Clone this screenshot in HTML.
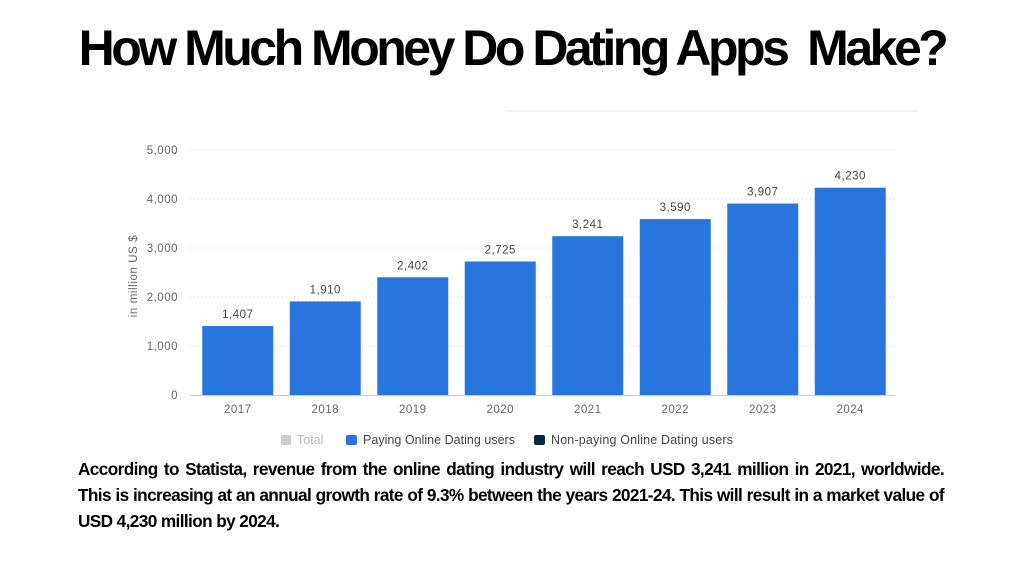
<!DOCTYPE html>
<html><head><meta charset="utf-8"><style>
body{margin:0;width:1024px;height:576px;background:#fff;overflow:hidden;position:relative;font-family:"Liberation Sans",sans-serif}
#title{position:absolute;left:0;top:19px;width:1024px;text-align:center;font-weight:bold;font-size:50px;letter-spacing:-3.5px;color:#000;white-space:nowrap}
#para{position:absolute;left:78px;top:456px;width:866px;font-weight:bold;font-size:17.2px;line-height:26px;text-align:justify;color:#000;letter-spacing:-0.6px}
svg{position:absolute;left:0;top:0}
</style></head><body>
<div id="title">How Much Money Do Dating Apps&nbsp; Make?</div>
<svg id="chart" width="1024" height="576">
<line x1="505" y1="111" x2="918" y2="111" stroke="#e3e3e3"/>
<g id="grid"></g><g id="bars"></g>
<text x="0" y="0" transform="translate(137,276) rotate(-90)" text-anchor="middle" font-size="11.5" fill="#666" letter-spacing="0.6">in million US $</text>
<g font-size="12.5" fill="#444">
<rect x="281" y="435" width="10" height="10" rx="2" fill="#ccc"/>
<text x="297" y="444" fill="#bbb">Total</text>
<rect x="346" y="435" width="11" height="10" rx="2" fill="#2876dd"/>
<text x="363" y="444" textLength="152">Paying Online Dating users</text>
<rect x="534" y="435" width="11" height="10" rx="2" fill="#0f2640"/>
<text x="551" y="444" textLength="182">Non-paying Online Dating users</text>
</g>
</svg>
<div id="para">According to Statista, revenue from the online dating industry will reach USD 3,241 million in 2021, worldwide. This is increasing at an annual growth rate of 9.3% between the years 2021-24. This will result in a market value of USD 4,230 million by 2024.</div>
<script>
const categories=["2017","2018","2019","2020","2021","2022","2023","2024"];
const values=[1407,1910,2402,2725,3241,3590,3907,4230];
const valueLabels=["1,407","1,910","2,402","2,725","3,241","3,590","3,907","4,230"];
const ticks=[0,1000,2000,3000,4000,5000];
const tickLabels=["0","1,000","2,000","3,000","4,000","5,000"];
const NS="http://www.w3.org/2000/svg";
const x0=194,x1=894,y0=395,y1=150,maxV=5000;
const band=(x1-x0)/categories.length,bw=71;
const y=v=>y0-(v/maxV)*(y0-y1);
const xb=i=>x0+i*band+(band-bw)/2;
function mk(t,a,p){const e=document.createElementNS(NS,t);for(const k in a)e.setAttribute(k,a[k]);p.appendChild(e);return e;}
const grid=document.getElementById('grid'),bars=document.getElementById('bars');
ticks.forEach((t,i)=>{
 if(t>0){const l=mk('line',{x1:190,x2:895,y1:y(t),y2:y(t),stroke:'#d8d8d8','stroke-dasharray':'1,3'},grid);
 
 }
 const tx=mk('text',{x:178,y:y(t)+4,'text-anchor':'end','font-size':11.5,fill:'#666','letter-spacing':0.5},grid);tx.textContent=tickLabels[i];
 
 
});
const ax=mk('line',{x1:190,x2:895,y1:y0+0.5,y2:y0+0.5,stroke:'#ccc'},grid);


categories.forEach((c,i)=>{
 const r=mk('rect',{x:xb(i),y:y(values[i]),width:bw,height:y0-y(values[i]),fill:'#2876dd'},bars);
 
 
 const v=mk('text',{x:xb(i)+bw/2,y:y(values[i])-8,'text-anchor':'middle','font-size':11.5,fill:'#444','letter-spacing':0.5},bars);v.textContent=valueLabels[i];
 
 
 const l=mk('text',{x:xb(i)+bw/2,y:413,'text-anchor':'middle','font-size':11.5,fill:'#666','letter-spacing':0.5},bars);l.textContent=c;
 
 
});
</script>
</body></html>
